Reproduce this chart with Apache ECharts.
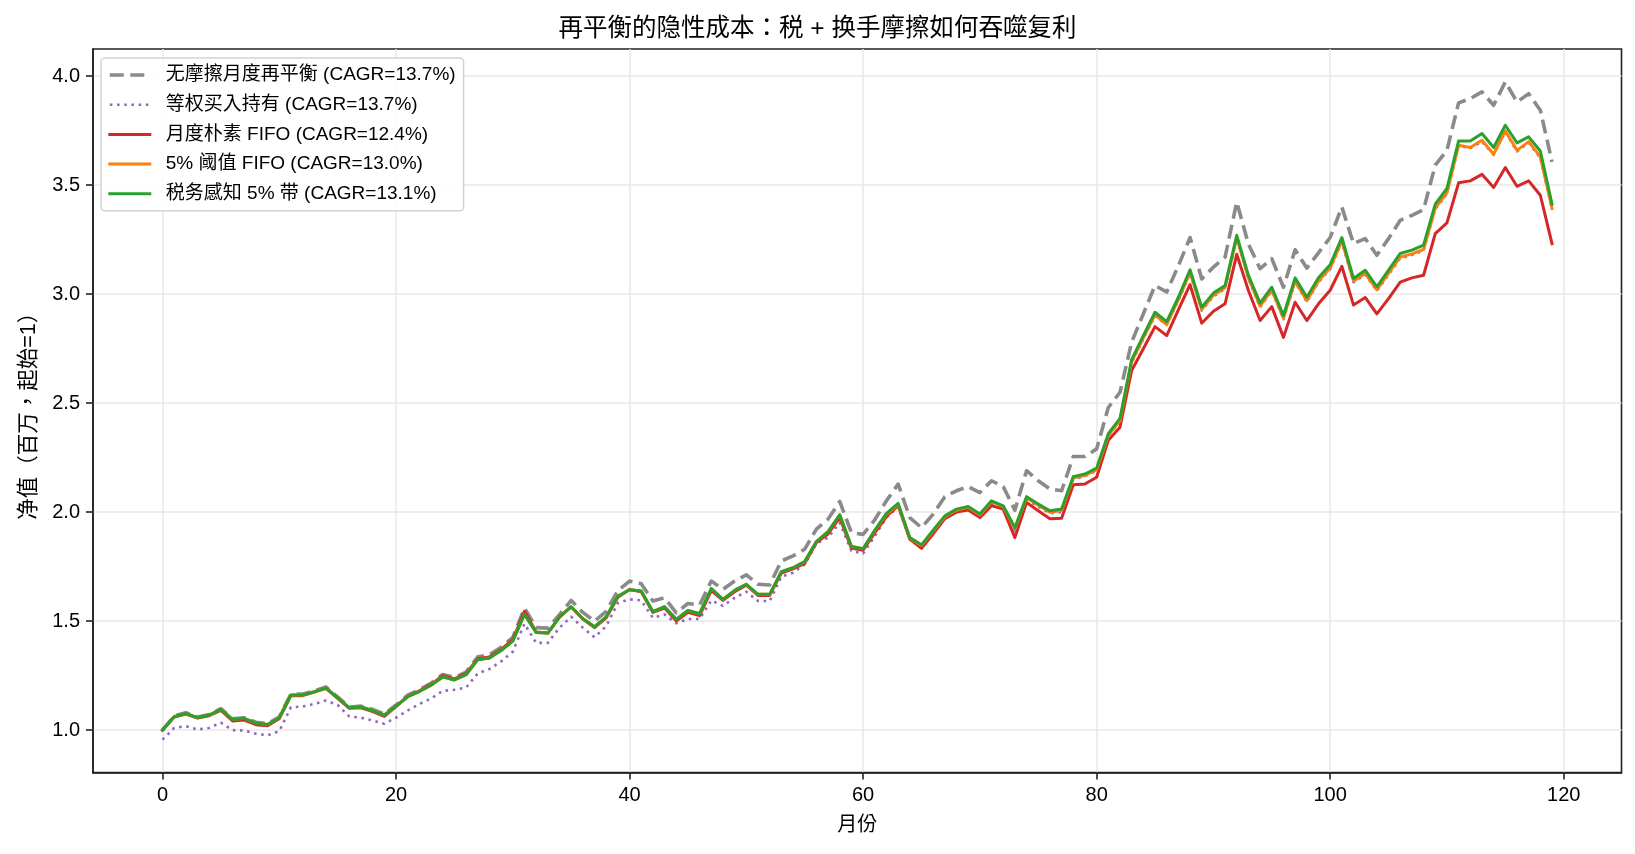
<!DOCTYPE html>
<html>
<head>
<meta charset="utf-8">
<script src="https://cdn.jsdelivr.net/npm/echarts@6/dist/echarts.min.js"></script>
<style>
html, body { margin: 0; padding: 0; background: #fff; }
#myChart { width: 1635px; height: 854px; }
</style>
</head>
<body>
<div id="myChart"></div>
<script>
// 月份 0..119
const months = [];
for (let i = 0; i < 120; i++) months.push(i);

const xTicks = [0, 20, 40, 60, 80, 100, 120];
const yTicks = [1.0, 1.5, 2.0, 2.5, 3.0, 3.5, 4.0];

const names = [
    '无摩擦月度再平衡 (CAGR=13.7%)',
    '等权买入持有 (CAGR=13.7%)',
    '月度朴素 FIFO (CAGR=12.4%)',
    '5% 阈值 FIFO (CAGR=13.0%)',
    '税务感知 5% 带 (CAGR=13.1%)'
];

// 无摩擦月度再平衡
const frictionless = [
    1.0, 1.065, 1.08, 1.06, 1.072, 1.098, 1.052, 1.057, 1.036, 1.03, 1.06, 1.165, 1.165, 1.18, 1.198, 1.152, 1.106, 1.11, 1.095, 1.073,
    1.115, 1.16, 1.185, 1.215, 1.255, 1.242, 1.266, 1.336, 1.345, 1.38, 1.425, 1.56, 1.47, 1.468, 1.53, 1.595, 1.54, 1.50, 1.545, 1.64,
    1.684, 1.672, 1.592, 1.607, 1.538, 1.581, 1.574, 1.684, 1.646, 1.684, 1.712, 1.669, 1.666, 1.776, 1.799, 1.83, 1.922, 1.968, 2.049, 1.906,
    1.898, 1.965, 2.052, 2.129, 1.975, 1.929, 1.991, 2.071, 2.098, 2.117, 2.09, 2.144, 2.117, 2.009, 2.19, 2.144, 2.106, 2.098, 2.255, 2.255,
    2.29, 2.48, 2.55, 2.78, 2.91, 3.04, 3.01, 3.13, 3.26, 3.07, 3.124, 3.17, 3.423, 3.23, 3.117, 3.163, 3.032, 3.204, 3.12, 3.19,
    3.26, 3.40, 3.232, 3.255, 3.179, 3.255, 3.339, 3.362, 3.388, 3.592, 3.66, 3.878, 3.898, 3.928, 3.867, 3.974, 3.882, 3.92, 3.844, 3.607
];

// 等权买入持有
const buyHold = [
    0.956, 1.01, 1.018, 1.003, 1.01, 1.034, 1.0, 0.998, 0.983, 0.976, 0.995, 1.105, 1.108, 1.12, 1.136, 1.115, 1.063, 1.057, 1.044, 1.029,
    1.057, 1.09, 1.12, 1.145, 1.18, 1.185, 1.195, 1.26, 1.28, 1.315, 1.36, 1.488, 1.40, 1.40, 1.47, 1.52, 1.47, 1.426, 1.477, 1.583,
    1.60, 1.595, 1.515, 1.53, 1.49, 1.51, 1.51, 1.595, 1.57, 1.607, 1.635, 1.592, 1.592, 1.704, 1.722, 1.76, 1.856, 1.883, 1.952, 1.822,
    1.81, 1.89, 1.975, 2.025, 1.875, 1.84, 1.905, 1.975, 2.005, 2.015, 1.98, 2.04, 2.02, 1.915, 2.06, 2.025, 1.995, 2.0, 2.15, 2.165,
    2.19, 2.35, 2.415, 2.685, 2.795, 2.9, 2.86, 2.97, 3.095, 2.925, 2.99, 3.025, 3.255, 3.07, 2.94, 3.015, 2.885, 3.055, 2.965, 3.055,
    3.115, 3.24, 3.055, 3.09, 3.015, 3.09, 3.165, 3.18, 3.2, 3.39, 3.46, 3.68, 3.67, 3.70, 3.64, 3.745, 3.655, 3.695, 3.625, 3.39
];

// 月度朴素 FIFO
const naiveFifo = [
    1.0, 1.06, 1.074, 1.055, 1.066, 1.09, 1.042, 1.046, 1.025, 1.02, 1.052, 1.158, 1.158, 1.174, 1.192, 1.146, 1.1, 1.102, 1.085, 1.063,
    1.108, 1.155, 1.18, 1.21, 1.25, 1.235, 1.26, 1.328, 1.336, 1.37, 1.415, 1.545, 1.45, 1.445, 1.52, 1.565, 1.51, 1.47, 1.515, 1.61,
    1.645, 1.635, 1.54, 1.56, 1.5, 1.54, 1.525, 1.64, 1.595, 1.635, 1.665, 1.618, 1.618, 1.72, 1.74, 1.765, 1.86, 1.9, 1.975, 1.835,
    1.825, 1.905, 1.98, 2.03, 1.876, 1.834, 1.9, 1.97, 2.0, 2.01, 1.975, 2.03, 2.014, 1.883, 2.044, 2.006, 1.97, 1.972, 2.126, 2.129,
    2.16, 2.33, 2.39, 2.65, 2.75, 2.851, 2.81, 2.928, 3.044, 2.867, 2.922, 2.956, 3.183, 3.017, 2.879, 2.943, 2.802, 2.963, 2.879, 2.956,
    3.018, 3.128, 2.95, 2.985, 2.91, 2.98, 3.055, 3.075, 3.087, 3.278, 3.327, 3.511, 3.52, 3.55, 3.49, 3.581, 3.495, 3.52, 3.454, 3.232
];

// 5% 阈值 FIFO
const thresholdFifo = [
    1.0, 1.061, 1.076, 1.057, 1.069, 1.095, 1.049, 1.054, 1.032, 1.026, 1.057, 1.161, 1.161, 1.176, 1.194, 1.148, 1.102, 1.106, 1.09, 1.069,
    1.11, 1.153, 1.177, 1.206, 1.244, 1.23, 1.254, 1.323, 1.331, 1.365, 1.408, 1.531, 1.448, 1.445, 1.518, 1.566, 1.511, 1.474, 1.52, 1.614,
    1.644, 1.638, 1.543, 1.566, 1.508, 1.549, 1.534, 1.649, 1.6, 1.641, 1.669, 1.623, 1.623, 1.727, 1.745, 1.773, 1.865, 1.911, 1.988, 1.842,
    1.832, 1.915, 1.99, 2.036, 1.88, 1.847, 1.913, 1.979, 2.01, 2.022, 1.987, 2.048, 2.025, 1.925, 2.066, 2.032, 2.0, 2.008, 2.156, 2.168,
    2.195, 2.352, 2.42, 2.69, 2.8, 2.905, 2.86, 2.975, 3.1, 2.93, 2.995, 3.03, 3.26, 3.075, 2.945, 3.02, 2.89, 3.06, 2.97, 3.06,
    3.12, 3.245, 3.06, 3.095, 3.02, 3.095, 3.17, 3.185, 3.205, 3.395, 3.465, 3.683, 3.673, 3.706, 3.642, 3.749, 3.66, 3.7, 3.63, 3.393
];

// 税务感知 5% 带
const taxAware = [
    1.0, 1.061, 1.076, 1.057, 1.069, 1.095, 1.049, 1.054, 1.032, 1.026, 1.057, 1.161, 1.161, 1.176, 1.194, 1.148, 1.102, 1.106, 1.09, 1.069,
    1.11, 1.153, 1.177, 1.206, 1.244, 1.23, 1.254, 1.323, 1.331, 1.365, 1.408, 1.531, 1.448, 1.445, 1.518, 1.566, 1.511, 1.474, 1.52, 1.614,
    1.644, 1.638, 1.543, 1.566, 1.508, 1.549, 1.534, 1.649, 1.6, 1.641, 1.669, 1.623, 1.623, 1.727, 1.745, 1.773, 1.865, 1.911, 1.988, 1.842,
    1.832, 1.917, 1.994, 2.04, 1.883, 1.85, 1.917, 1.983, 2.014, 2.026, 1.991, 2.052, 2.029, 1.929, 2.071, 2.037, 2.006, 2.014, 2.163, 2.175,
    2.202, 2.36, 2.43, 2.7, 2.81, 2.917, 2.874, 2.986, 3.112, 2.94, 3.005, 3.04, 3.27, 3.086, 2.959, 3.032, 2.902, 3.075, 2.986, 3.075,
    3.135, 3.26, 3.072, 3.11, 3.034, 3.11, 3.187, 3.202, 3.225, 3.413, 3.485, 3.703, 3.703, 3.737, 3.673, 3.775, 3.694, 3.722, 3.657, 3.413
];

const colors = ['#8a8a8a', '#9467bd', '#d62728', '#ff7f0e', '#2ca02c'];
const widths = [3.6, 2.6, 3, 3, 3];
const dashes = [[14, 6.5], [2.6, 4.6], 'solid', 'solid', 'solid'];
const allValues = [frictionless, buyHold, naiveFifo, thresholdFifo, taxAware];

const font = "'Liberation Sans', 'Noto Sans CJK TC', sans-serif";

function pairs(vals) {
    return months.map((m, i) => [m, vals[i]]);
}

let myChart = echarts.init(document.getElementById('myChart'), null, { renderer: 'canvas' });

let option = {
    animation: false,
    backgroundColor: '#fff',
    textStyle: { fontFamily: font },
    title: {
        text: '再平衡的隐性成本：税 + 换手摩擦如何吞噬复利',
        left: 'center',
        top: 12,
        textStyle: { fontFamily: font, fontSize: 24.5, fontWeight: 'normal', color: '#000' }
    },
    grid: {
        left: 93, right: 13.5, top: 49, bottom: 81.4,
        show: true, borderColor: '#222', borderWidth: 1.6
    },
    legend: {
        orient: 'vertical',
        left: 101,
        top: 58,
        padding: [7, 8, 7, 7],
        itemWidth: 40,
        itemHeight: 14,
        itemGap: 9.7,
        backgroundColor: 'rgba(255,255,255,0.85)',
        borderColor: '#d3d3d3',
        borderWidth: 1.5,
        borderRadius: 4,
        itemStyle: { opacity: 0 },
        textStyle: { fontFamily: font, fontSize: 19, lineHeight: 20, color: '#000', padding: [0, 0, 0, 11] },
        data: names.map((n, i) => ({
            name: n,
            lineStyle: { color: colors[i], width: widths[i], type: dashes[i] }
        }))
    },
    xAxis: {
        type: 'value',
        min: -5.95,
        max: 124.95,
        name: '月份',
        nameLocation: 'middle',
        nameGap: 43,
        nameTextStyle: { fontFamily: font, fontSize: 20, color: '#000' },
        axisLine: { show: true, onZero: false, lineStyle: { color: '#222', width: 1.6 } },
        axisTick: { show: true, inside: false, length: 7, lineStyle: { color: '#222', width: 1.6 }, customValues: xTicks },
        axisLabel: { fontFamily: font, fontSize: 20, color: '#000', margin: 13, customValues: xTicks },
        splitLine: { show: true, lineStyle: { color: '#e8e8e8', width: 1.5 } }
    },
    yAxis: {
        type: 'value',
        min: 0.805,
        max: 4.125,
        name: '净值（百万，起始=1）',
        nameLocation: 'middle',
        nameGap: 53,
        nameTextStyle: { fontFamily: font, fontSize: 21.5, color: '#000' },
        axisLine: { show: true, onZero: false, lineStyle: { color: '#222', width: 1.6 } },
        axisTick: { show: true, inside: false, length: 7, lineStyle: { color: '#222', width: 1.6 }, customValues: yTicks },
        axisLabel: {
            fontFamily: font, fontSize: 20, color: '#000', margin: 13, customValues: yTicks,
            formatter: v => v.toFixed(1)
        },
        splitLine: { show: true, lineStyle: { color: '#e8e8e8', width: 1.5 } }
    },
    series: names.map((n, i) => ({
        name: n,
        type: 'line',
        data: pairs(allValues[i]),
        symbol: 'none',
        showSymbol: false,
        silent: true,
        lineStyle: {
            color: colors[i], width: widths[i], type: dashes[i],
            join: 'round', cap: dashes[i] === 'solid' ? 'square' : 'butt'
        },
        itemStyle: { color: colors[i] }
    }))
};
myChart.setOption(option);
</script>
</body>
</html>
